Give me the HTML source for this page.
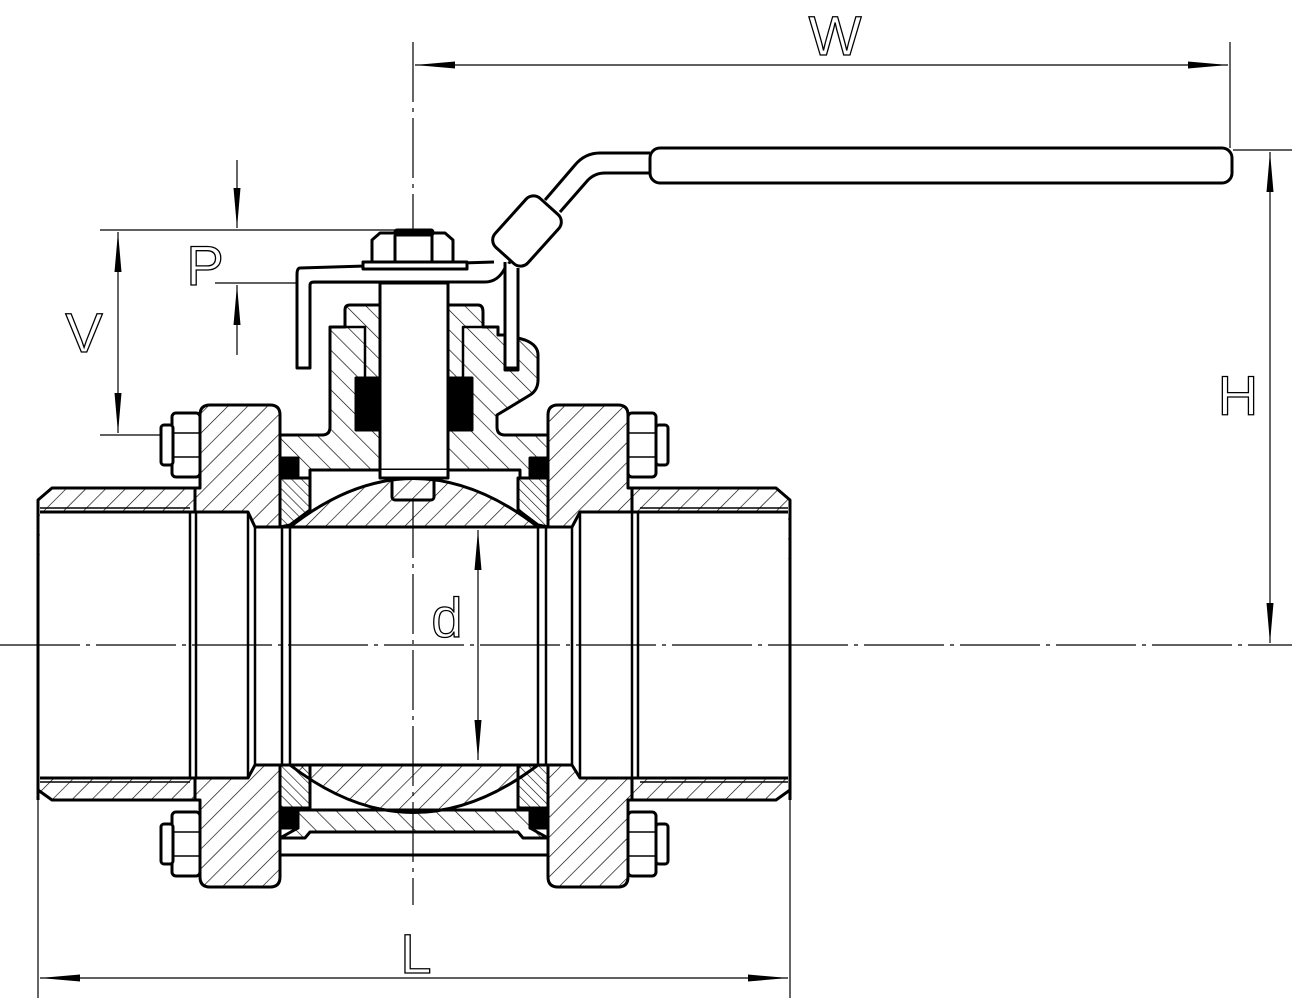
<!DOCTYPE html>
<html><head><meta charset="utf-8"><style>html,body{margin:0;padding:0;background:#fff}svg{display:block}</style></head><body>
<svg width="1300" height="1000" viewBox="0 0 1300 1000" xmlns="http://www.w3.org/2000/svg">
<defs>
<pattern id="h1" patternUnits="userSpaceOnUse" width="14" height="14" patternTransform="rotate(-45)"><line x1="0" y1="0" x2="0" y2="14" stroke="#000" stroke-width="1.3"/></pattern>
<pattern id="h2" patternUnits="userSpaceOnUse" width="14" height="14" patternTransform="rotate(45)"><line x1="0" y1="0" x2="0" y2="14" stroke="#000" stroke-width="1.3"/></pattern>
<pattern id="h3" patternUnits="userSpaceOnUse" width="7" height="7" patternTransform="rotate(-45)"><line x1="0" y1="0" x2="0" y2="7" stroke="#000" stroke-width="1.2"/></pattern>
<marker id="b" viewBox="0 0 40 10" refX="40" refY="5" markerWidth="40" markerHeight="10" orient="auto-start-reverse" markerUnits="userSpaceOnUse"><path d="M0,1.5 L40,5 L0,8.5z" fill="#000"/></marker>
</defs>
<g fill="none" stroke="#000">
<line x1="413" y1="42" x2="413" y2="905" stroke-width="1.2" stroke-dasharray="60,6,4,6"/>
<line x1="0" y1="645" x2="1292" y2="645" stroke-width="1.2" stroke-dasharray="80,6,4,6"/>
<line x1="1230" y1="42" x2="1230" y2="148" stroke-width="1.2"/>
<line x1="415" y1="65" x2="1228" y2="65" stroke-width="1.2" marker-start="url(#b)" marker-end="url(#b)"/>
<line x1="1233" y1="150" x2="1292" y2="150" stroke-width="1.2"/>
<line x1="1270" y1="152" x2="1270" y2="643" stroke-width="1.2" marker-start="url(#b)" marker-end="url(#b)"/>
<line x1="38" y1="800" x2="38" y2="998" stroke-width="1.2"/>
<line x1="790" y1="800" x2="790" y2="998" stroke-width="1.2"/>
<line x1="40" y1="978" x2="788" y2="978" stroke-width="1.2" marker-start="url(#b)" marker-end="url(#b)"/>
<line x1="100" y1="230" x2="400" y2="230" stroke-width="1.2"/>
<line x1="100" y1="435" x2="200" y2="435" stroke-width="1.2"/>
<line x1="118" y1="232" x2="118" y2="433" stroke-width="1.2" marker-start="url(#b)" marker-end="url(#b)"/>
<line x1="215" y1="283" x2="380" y2="283" stroke-width="1.2"/>
<line x1="237" y1="160" x2="237" y2="228" stroke-width="1.2" marker-end="url(#b)"/>
<line x1="237" y1="355" x2="237" y2="285" stroke-width="1.2" marker-end="url(#b)"/>
<line x1="478" y1="530" x2="478" y2="760" stroke-width="1.2" marker-start="url(#b)" marker-end="url(#b)"/>
</g>
<g font-family="Liberation Sans, sans-serif" fill="#fff" stroke="#000" stroke-width="1.3">
<text x="835" y="55" font-size="56" text-anchor="middle">W</text>
<text x="1238" y="415" font-size="56" text-anchor="middle">H</text>
<text x="416" y="973" font-size="56" text-anchor="middle">L</text>
<text x="84" y="352" font-size="56" text-anchor="middle">V</text>
<text x="205" y="285" font-size="56" text-anchor="middle">P</text>
<text x="447" y="637" font-size="56" text-anchor="middle">d</text>
</g>

<g stroke="#000" stroke-width="3" stroke-linejoin="round">
<rect x="650" y="148" width="582" height="35" rx="10" fill="#fff"/>
<path d="M650,153 L600,153 Q585,153 575,165 L545,200 M650,173 L605,173 Q595,173 588,180 L560,212" fill="none"/>
<path d="M494,262 L300,268 Q297,268 297,275 L297,368 L310,368 L310,285 Q310,282 314,282 L485,282 Q498,282 505,268 L510,262" fill="#fff"/>
<rect x="494" y="209" width="66" height="44" rx="10" transform="rotate(-48 527 231)" fill="#fff"/>
<path d="M505,262 L505,370 L518,370 L518,268" fill="#fff"/>
<rect x="363" y="262" width="104" height="7" fill="#fff"/>
<path d="M372,262 L372,240 L380,233 L445,233 L453,240 L453,262 Z" fill="#fff"/>
<line x1="395" y1="235" x2="395" y2="261"/><line x1="432" y1="235" x2="432" y2="261"/>
<rect x="395" y="230" width="38" height="5" rx="2" fill="#000"/>

<path d="M38,800 L38,500 L52,488 L195,488 L195,512 L40,512" fill="url(#h2)"/>
<path d="M38,790 L52,800 L195,800 L195,778 L40,778" fill="url(#h2)"/>
<path d="M790,800 L790,500 L776,488 L632,488 L632,512 L788,512" fill="url(#h2)"/>
<path d="M790,790 L776,800 L632,800 L632,778 L788,778" fill="url(#h2)"/>
<line x1="40" y1="508" x2="190" y2="508" stroke-width="1.5"/>
<line x1="40" y1="782" x2="190" y2="782" stroke-width="1.5"/>
<line x1="640" y1="508" x2="788" y2="508" stroke-width="1.5"/>
<line x1="640" y1="782" x2="788" y2="782" stroke-width="1.5"/>

<path d="M200,488 L200,415 Q200,405 210,405 L270,405 Q280,405 280,415 L280,527 L255,527 L248,512 L195,512 L195,488 Z" fill="url(#h2)"/>
<path d="M200,800 L200,877 Q200,887 210,887 L270,887 Q280,887 280,877 L280,765 L255,765 L248,778 L195,778 L195,800 Z" fill="url(#h2)"/>
<path d="M628,488 L628,415 Q628,405 618,405 L558,405 Q548,405 548,415 L548,527 L572,527 L580,512 L632,512 L632,488 Z" fill="url(#h2)"/>
<path d="M628,800 L628,877 Q628,887 618,887 L558,887 Q548,887 548,877 L548,765 L572,765 L580,778 L632,778 L632,800 Z" fill="url(#h2)"/>
<g stroke-width="2.5">
<line x1="190" y1="512" x2="190" y2="778"/><line x1="196" y1="512" x2="196" y2="778"/>
<line x1="248" y1="512" x2="248" y2="778"/><line x1="255" y1="527" x2="255" y2="765"/>
<line x1="282" y1="527" x2="282" y2="765"/><line x1="290" y1="527" x2="290" y2="765"/>
<line x1="538" y1="527" x2="538" y2="765"/><line x1="546" y1="527" x2="546" y2="765"/>
<line x1="572" y1="527" x2="572" y2="765"/><line x1="580" y1="512" x2="580" y2="778"/>
<line x1="632" y1="512" x2="632" y2="778"/><line x1="638" y1="512" x2="638" y2="778"/>
</g>

<g fill="#fff">
<rect x="172" y="413" width="28" height="64" rx="4"/><rect x="161" y="425" width="12" height="40" rx="3"/>
<rect x="628" y="413" width="28" height="64" rx="4"/><rect x="656" y="425" width="12" height="40" rx="3"/>
<rect x="172" y="812" width="28" height="64" rx="4"/><rect x="161" y="824" width="12" height="40" rx="3"/>
<rect x="628" y="812" width="28" height="64" rx="4"/><rect x="656" y="824" width="12" height="40" rx="3"/>
</g>
<g stroke-width="1.5"><line x1="172" y1="433" x2="200" y2="433"/><line x1="172" y1="457" x2="200" y2="457"/>
<line x1="628" y1="433" x2="656" y2="433"/><line x1="628" y1="457" x2="656" y2="457"/>
<line x1="172" y1="832" x2="200" y2="832"/><line x1="172" y1="856" x2="200" y2="856"/>
<line x1="628" y1="832" x2="656" y2="832"/><line x1="628" y1="856" x2="656" y2="856"/></g>

<path d="M280,435 L322,435 Q330,435 330,427 L330,327 L345,327 L345,310 Q345,305 350,305 L380,305 L380,470 L310,470 L310,478 L280,478 Z" fill="url(#h1)"/>
<path d="M548,435 L505,435 Q497,435 497,427 L497,415 L530,395 Q538,390 538,380 L538,355 Q538,345 525,340 L518,338 L518,368 L505,368 L505,335 L498,335 L498,327 L483,327 L483,312 Q483,305 478,305 L448,305 L448,470 L520,470 L520,478 L548,478 Z" fill="url(#h1)"/>
<path d="M345,327 L365,327 L365,378 L380,378" fill="none" stroke-width="2.5"/>
<path d="M483,327 L463,327 L463,378 L448,378" fill="none" stroke-width="2.5"/>
<rect x="356" y="378" width="24" height="52" fill="#000"/>
<rect x="448" y="378" width="24" height="52" fill="#000"/>
<rect x="380" y="283" width="68" height="187" fill="#fff"/>
<path d="M380,470 L380,478 L448,478 L448,470" fill="#fff"/>
<rect x="392" y="478" width="42" height="22" rx="3" fill="#fff"/>
<rect x="280" y="458" width="18" height="18" fill="#000"/>
<rect x="530" y="458" width="18" height="18" fill="#000"/>
<rect x="282" y="810" width="16" height="18" fill="#000"/>
<rect x="530" y="810" width="16" height="18" fill="#000"/>
<path d="M280,478 L310,478 L310,510 L290,525 L280,527 Z" fill="url(#h3)"/>
<path d="M548,478 L518,478 L518,510 L538,525 L548,527 Z" fill="url(#h3)"/>
<path d="M280,765 L310,765 L310,808 L280,808 Z" fill="url(#h3)"/>
<path d="M548,765 L518,765 L518,808 L548,808 Z" fill="url(#h3)"/>
<path d="M290,527 Q413,430 538,527 Z" fill="url(#h2)"/>
<path d="M290,765 Q413,860 538,765 Z" fill="url(#h2)"/>
<line x1="280" y1="527" x2="548" y2="527"/>
<line x1="280" y1="765" x2="548" y2="765"/>
<path d="M298,810 L530,810 L530,828 L548,838 L523,838 L518,832 L310,832 L305,838 L280,838 L298,828 Z" fill="url(#h1)"/>
<line x1="280" y1="855" x2="548" y2="855"/>
<line x1="280" y1="838" x2="280" y2="855"/><line x1="548" y1="838" x2="548" y2="855"/>
</g>
</svg>
</body></html>
